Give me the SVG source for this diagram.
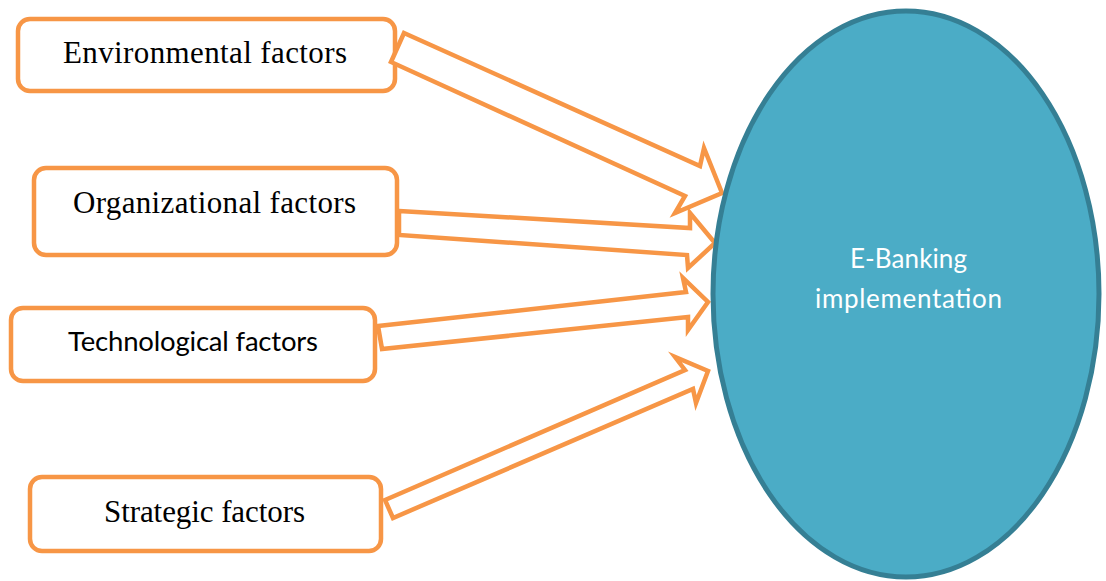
<svg xmlns="http://www.w3.org/2000/svg" width="1106" height="581" viewBox="0 0 1106 581">
  <style>
    .box { fill: #ffffff; stroke: #f79646; stroke-width: 4.5; }
    .serif { font-family: "Liberation Serif", "Times New Roman", serif; font-size: 31px; fill: #000000; }
    .sans { font-family: Lato, "Open Sans", "Liberation Sans", sans-serif; font-size: 27.5px; fill: #000000; }
    .arrow { fill: #ffffff; stroke: #f79646; stroke-width: 4.5; stroke-linejoin: miter; stroke-miterlimit: 10; }
    .hub { fill: #4bacc6; stroke: #357f94; stroke-width: 5; }
    .hub-label { font-family: Lato, "Open Sans", "Liberation Sans", sans-serif; font-size: 26px; fill: #ffffff; }
  </style>

  <!-- factor boxes -->
  <g id="environmental">
    <rect class="box" x="18" y="19" width="377" height="72" rx="12" ry="12"/>
    <text class="serif" x="63" y="63" textLength="284" lengthAdjust="spacing">Environmental factors</text>
  </g>
  <g id="organizational">
    <rect class="box" x="34" y="168" width="363" height="87" rx="12" ry="12"/>
    <text class="serif" x="73" y="213" textLength="283" lengthAdjust="spacing">Organizational factors</text>
  </g>
  <g id="technological">
    <rect class="box" x="11" y="308" width="364" height="73" rx="12" ry="12"/>
    <text class="sans" x="68" y="351" textLength="250" lengthAdjust="spacing">Technological factors</text>
  </g>
  <g id="strategic">
    <rect class="box" x="30" y="477" width="351" height="74" rx="12" ry="12"/>
    <text class="serif" x="104" y="522" textLength="201" lengthAdjust="spacing">Strategic factors</text>
  </g>

  <!-- block arrows from each factor to the hub -->
  <g id="connectors">
    <polygon class="arrow" points="404,33 700,166 704,148 722,193 675,213 685,196 391,62"/>
    <polygon class="arrow" points="399,211 690,228 690,213 715,243 688,268 687,255 399,235"/>
    <polygon class="arrow" points="378,326 686,292 683,278 708,302 688,330 688,317 382,349"/>
    <polygon class="arrow" points="385,500 685,370 675,357 708,371 696,403 693,389 393,518"/>
  </g>

  <!-- hub -->
  <g id="e-banking">
    <ellipse class="hub" cx="906" cy="294" rx="193" ry="283"/>
    <text class="hub-label" x="850" y="268" textLength="117" lengthAdjust="spacing">E-Banking</text>
    <text class="hub-label" x="815" y="308" textLength="187" lengthAdjust="spacing">implementation</text>
  </g>
</svg>
